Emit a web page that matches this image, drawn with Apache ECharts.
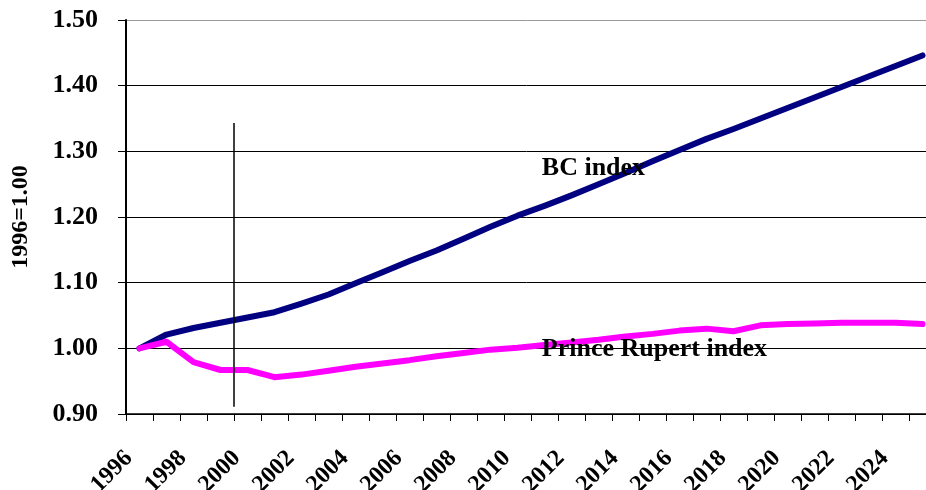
<!DOCTYPE html>
<html>
<head>
<meta charset="utf-8">
<script src="https://cdn.jsdelivr.net/npm/echarts@6/dist/echarts.min.js"></script>
<style>
  html, body { margin: 0; padding: 0; background: #fff; }
  #chart { width: 926px; height: 490px; }
</style>
</head>
<body>
<div id="chart"></div>
<script>
// years on the category axis
var years = []
for (var y = 1996; y <= 2025; y++) years.push(String(y))

var bcIndex = [1.000, 1.021, 1.031, 1.039, 1.047, 1.055, 1.068, 1.082, 1.099, 1.116,
  1.133, 1.149, 1.167, 1.185, 1.202, 1.217, 1.233, 1.250, 1.267, 1.285,
  1.302, 1.319, 1.334, 1.350, 1.366, 1.382, 1.398, 1.414, 1.430, 1.446]

var princeRupertIndex = [1.000, 1.010, 0.979, 0.967, 0.967, 0.956, 0.960, 0.966, 0.972, 0.977,
  0.982, 0.988, 0.993, 0.998, 1.001, 1.005, 1.009, 1.013, 1.018, 1.022,
  1.027, 1.030, 1.026, 1.035, 1.037, 1.038, 1.039, 1.039, 1.039, 1.037]

// vertical marker line (in year units, start of the 2000 column)
var markerLine = [[1999.5, 0.911], [1999.5, 1.343]]

// in-chart series labels: [year, value, text]
var seriesLabels = [[2010.9, 1.274, 'BC index'], [2010.9, 0.999, 'Prince Rupert index']]

var yTicks = { min: 0.9, max: 1.5, interval: 0.1 }

var font = 'Liberation Serif'

var chart = echarts.init(document.getElementById('chart'))
var option = {
  animation: false,
  backgroundColor: '#fff',
  grid: { left: 126, top: 20, width: 810, height: 394, containLabel: false, outerBoundsMode: 'none' },
  xAxis: [
    {
      type: 'category',
      data: years,
      boundaryGap: true,
      axisLine: { lineStyle: { color: '#000', width: 1.5 } },
      axisTick: { show: true, inside: false, length: 7, interval: 0, lineStyle: { color: '#000', width: 1 } },
      axisLabel: {
        interval: 1,
        rotate: 45,
        margin: 30,
        padding: [0, 15, 0, 0],
        fontFamily: font,
        fontWeight: 'bold',
        fontSize: 24,
        color: '#000'
      },
      splitLine: { show: false }
    },
    {
      type: 'value',
      min: 1995.5,
      max: 2025.5,
      show: false
    }
  ],
  yAxis: {
    type: 'value',
    min: yTicks.min,
    max: yTicks.max,
    interval: yTicks.interval,
    name: '1996=1.00',
    nameLocation: 'middle',
    nameRotate: 90,
    nameGap: 93,
    nameTextStyle: { fontFamily: font, fontWeight: 'bold', fontSize: 24, color: '#000' },
    axisLine: { show: true, lineStyle: { color: '#000', width: 2 } },
    axisTick: { show: true, length: 8, lineStyle: { color: '#000', width: 1 } },
    axisLabel: {
      margin: 28,
      fontFamily: font,
      fontWeight: 'bold',
      fontSize: 26,
      color: '#000',
      formatter: function (v) { return v.toFixed(2) }
    },
    splitLine: {
      show: true,
      lineStyle: { color: ['#000', '#000', '#000', '#000', '#000', '#000', '#999'], width: 1 }
    }
  },
  series: [
    {
      name: 'BC index',
      type: 'line',
      data: bcIndex,
      symbol: 'none',
      lineStyle: { color: '#000080', width: 6, cap: 'round', join: 'round' },
      z: 3
    },
    {
      name: 'Prince Rupert index',
      type: 'line',
      data: princeRupertIndex,
      symbol: 'none',
      lineStyle: { color: '#ff00ff', width: 6, cap: 'round', join: 'round' },
      z: 3
    },
    {
      type: 'line',
      xAxisIndex: 1,
      data: markerLine,
      symbol: 'none',
      lineStyle: { color: '#000', width: 1.5 },
      z: 4
    },
    {
      type: 'scatter',
      xAxisIndex: 1,
      data: seriesLabels,
      symbolSize: 0,
      itemStyle: { opacity: 1 },
      label: {
        show: true,
        position: 'right',
        distance: 0,
        fontFamily: font,
        fontWeight: 'bold',
        fontSize: 26,
        color: '#000',
        formatter: function (p) { return p.value[2] }
      },
      z: 5
    }
  ]
}
chart.setOption(option)
</script>
</body>
</html>
